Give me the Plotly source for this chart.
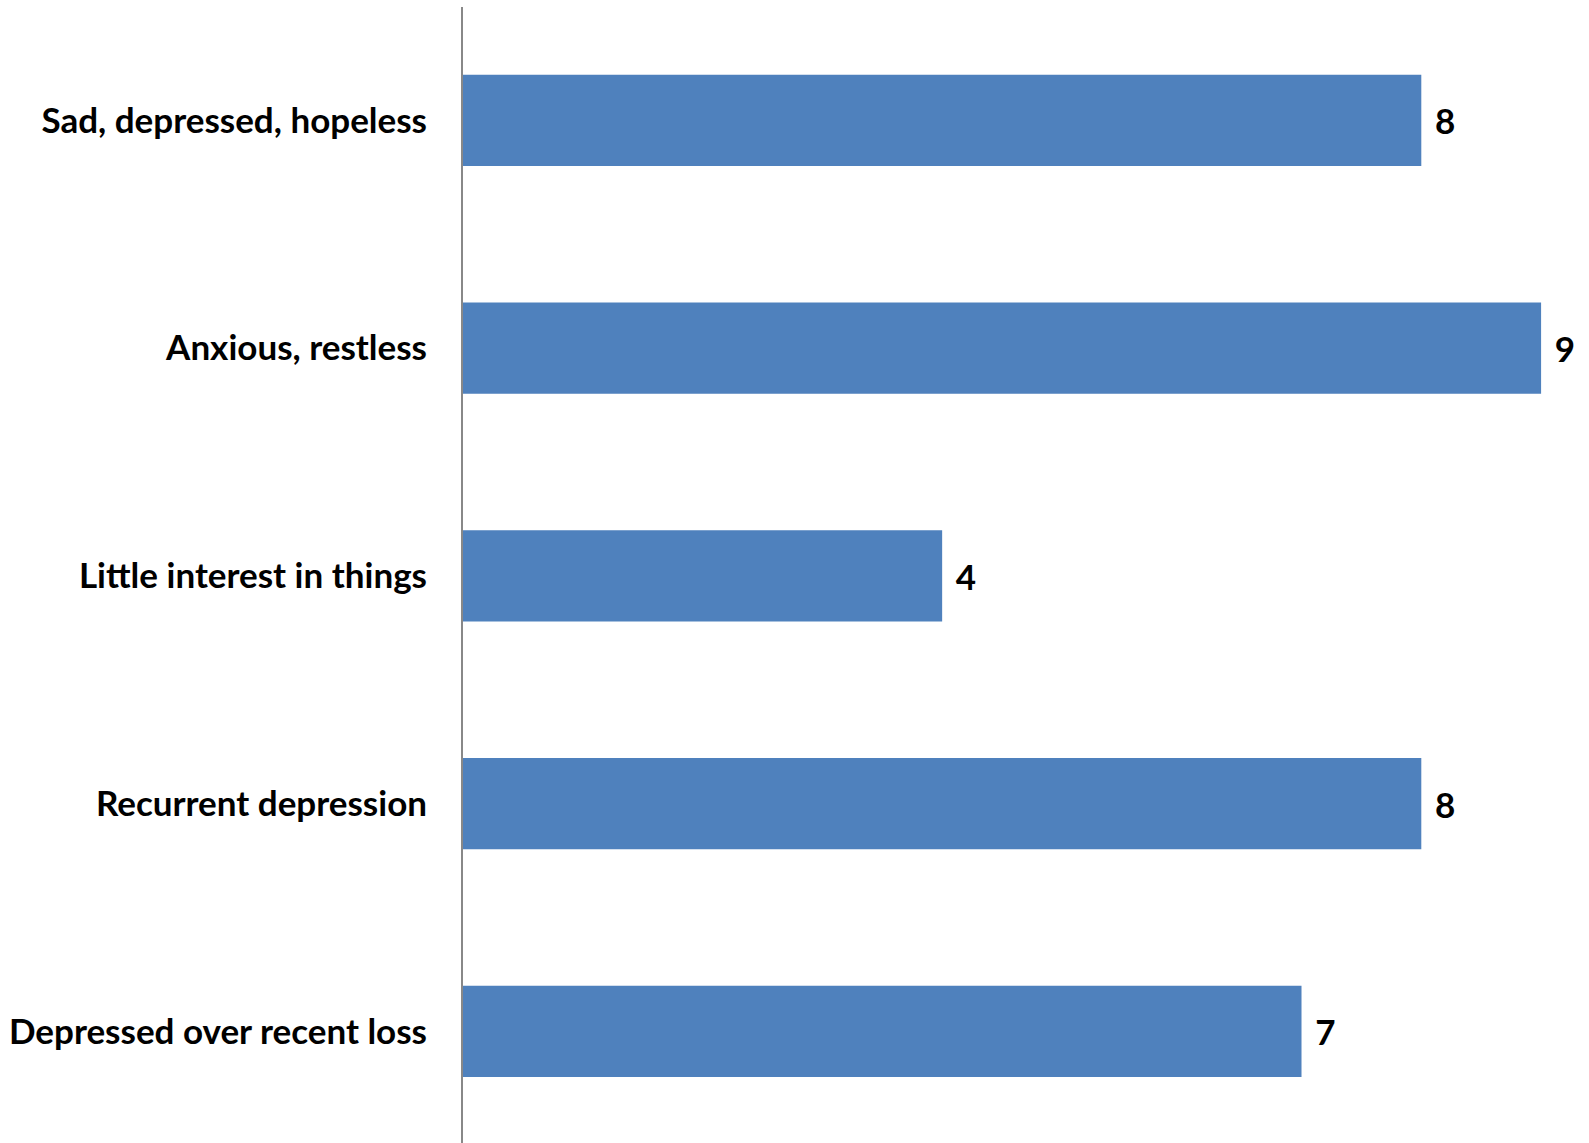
import plotly.graph_objects as go

categories = [
    "Sad, depressed, hopeless",
    "Anxious, restless",
    "Little interest in things",
    "Recurrent depression",
    "Depressed over recent loss",
]
values = [8, 9, 4, 8, 7]

bar_color = "#4F81BD"
font_family = "Lato"

fig = go.Figure(
    go.Bar(
        x=values,
        y=categories,
        orientation="h",
        marker=dict(color=bar_color, line=dict(width=0)),
        width=0.40,
        text=values,
        texttemplate="\u00a0\u200a%{x}",
        textposition="outside",
        cliponaxis=False,
        textfont=dict(family=font_family, size=35, color="black", weight="bold"),
        hoverinfo="skip",
    )
)

fig.update_layout(
    width=1589,
    height=1143,
    margin=dict(l=463, r=0, t=7, b=0),
    paper_bgcolor="white",
    plot_bgcolor="white",
    showlegend=False,
    font=dict(family=font_family, color="black"),
)

fig.update_xaxes(
    range=[0, 9.4],
    showgrid=False,
    zeroline=False,
    showticklabels=False,
    showline=False,
    ticks="",
)

fig.update_yaxes(
    range=[4.49, -0.498],
    showgrid=False,
    zeroline=False,
    showline=True,
    linecolor="#888888",
    linewidth=2,
    ticks="",
    ticklabelstandoff=27,
    tickfont=dict(family=font_family, size=35, color="black", weight="bold"),
)

fig.write_html("out.html")
